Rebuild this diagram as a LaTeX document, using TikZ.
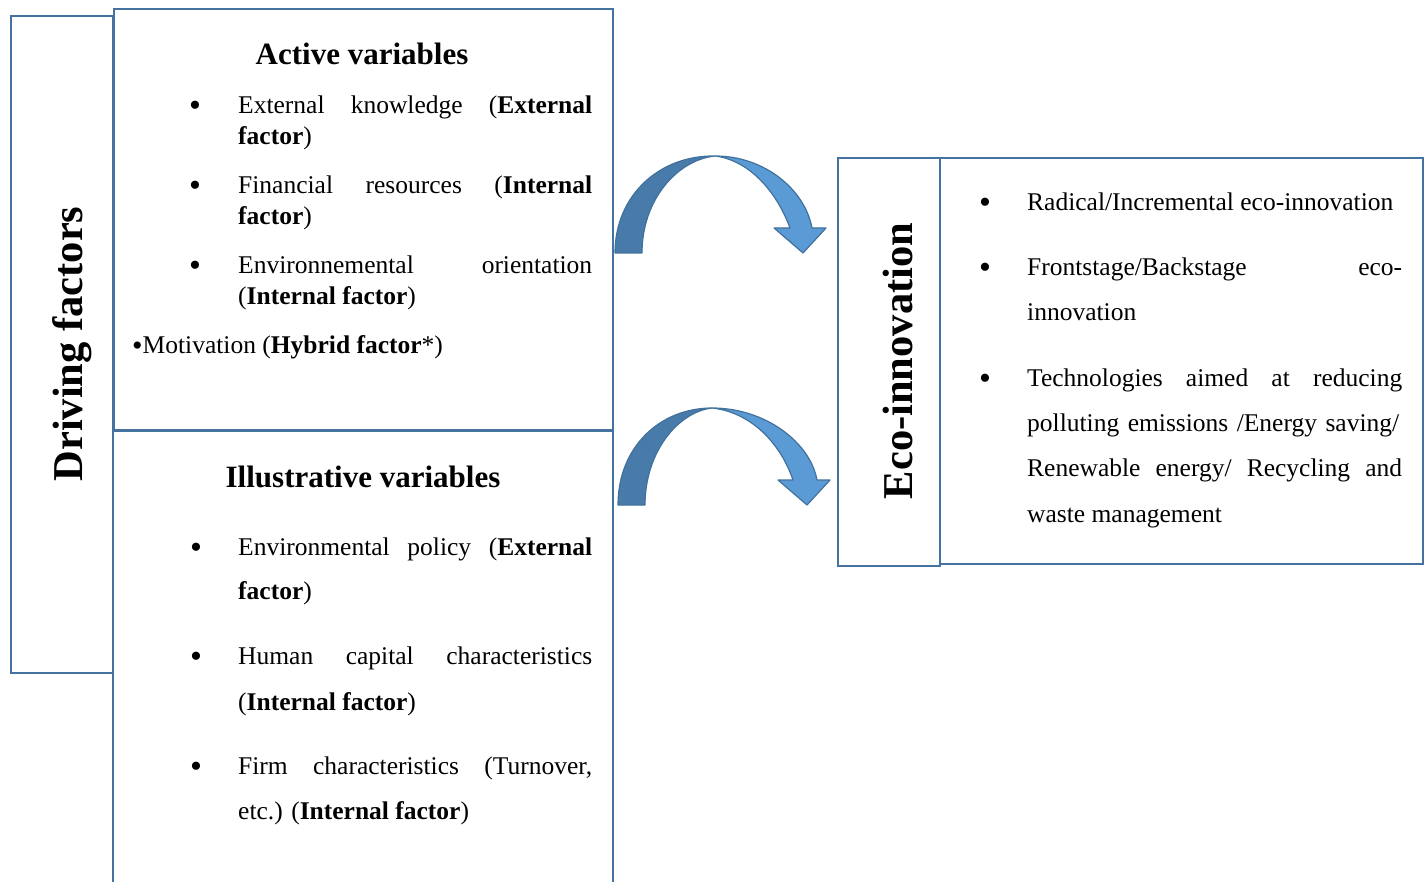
\documentclass[tikz,border=0pt]{standalone}
\usepackage{fontspec}
\setmainfont{Liberation Serif}
\definecolor{boxblue}{RGB}{70,114,160}
\definecolor{arrdark}{RGB}{72,122,170}
\definecolor{arrlight}{RGB}{91,155,213}
\definecolor{arrline}{RGB}{65,113,156}
\begin{document}
\begin{tikzpicture}[x=1pt,y=-1pt,
  box/.style={draw=boxblue,line width=2pt,rectangle,anchor=north west,inner sep=0pt},
  txt/.style={anchor=base west,inner sep=0pt,font=\fontsize{25.5}{30}\selectfont},
  bul/.style={anchor=base,inner sep=0pt,font=\fontsize{34}{36}\selectfont},
  ttl/.style={anchor=base,inner sep=0pt,font=\fontsize{31}{36}\selectfont\bfseries},
  side/.style={inner sep=0pt,rotate=90,font=\fontsize{42.5}{48}\selectfont\bfseries},
  dark/.style={fill=arrdark,draw=arrline,line width=1.2pt,line join=round},
  light/.style={fill=arrlight,draw=arrline,line width=1.2pt,line join=round}]
\useasboundingbox (0,0) rectangle (1424,882);
% boxes
\node[box,minimum width=102pt,minimum height=657pt] (drv) at (10,15) {};
\node[box,minimum width=499pt,minimum height=422pt] (act) at (113,8) {};
\draw[boxblue,line width=2pt] (113,883) -- (113,430) -- (613,430) -- (613,883);
\node[box,minimum width=102pt,minimum height=408pt] (ecol) at (837,157) {};
\node[box,minimum width=483pt,minimum height=406pt] (ecoc) at (939,157) {};
% side labels
\node[side] (drvt) at (72,344) {Driving factors};
\node[side] (ecot) at (898,361) {Eco-innovation};
% Active variables
\node[ttl] (actt) at (362,65) {Active variables};
\node[bul] (ab1) at (195,117) {\textbullet};
\node[txt] (a1) at (238,114) {\makebox[354pt][s]{External knowledge (\textbf{External}}};
\node[txt] (a2) at (238,145) {\textbf{factor})};
\node[bul] (ab2) at (195,197) {\textbullet};
\node[txt] (a3) at (238,194) {\makebox[354pt][s]{Financial resources (\textbf{Internal}}};
\node[txt] (a4) at (238,225) {\textbf{factor})};
\node[bul] (ab3) at (195,277) {\textbullet};
\node[txt] (a5) at (238,274) {\makebox[354pt][s]{Environnemental orientation}};
\node[txt] (a6) at (238,305) {(\textbf{Internal factor})};
\node[txt] (a7) at (132,354) {{\fontsize{30}{32}\selectfont\raisebox{-1.5pt}{\textbullet}}Motivation (\textbf{Hybrid factor}*)};
% Illustrative variables
\node[ttl] (illt) at (363,487) {Illustrative variables};
\node[bul] (ib1) at (196,558) {\textbullet};
\node[txt] (i1) at (238,555) {\makebox[354pt][s]{Environmental policy (\textbf{External}}};
\node[txt] (i2) at (238,599) {\textbf{factor})};
\node[bul] (ib2) at (196,667) {\textbullet};
\node[txt] (i3) at (238,664) {\makebox[354pt][s]{Human capital characteristics}};
\node[txt] (i4) at (238,710) {(\textbf{Internal factor})};
\node[bul] (ib3) at (196,777) {\textbullet};
\node[txt] (i5) at (238,774) {\makebox[354pt][s]{Firm characteristics (Turnover,}};
\node[txt] (i6) at (238,819) {etc.) (\textbf{Internal factor})};
% Eco-innovation list
\node[bul] (eb1) at (985,214) {\textbullet};
\node[txt] (e1) at (1027,211) {Radical/Incremental eco-innovation};
\node[bul] (eb2) at (985,279) {\textbullet};
\node[txt] (e2) at (1027,276) {\makebox[375pt][s]{Frontstage/Backstage eco-}};
\node[txt] (e3) at (1027,321) {innovation};
\node[bul] (eb3) at (985,389) {\textbullet};
\node[txt] (e4) at (1027,386) {\makebox[375pt][s]{Technologies aimed at reducing}};
\node[txt] (e5) at (1027,431) {\makebox[372pt][s]{polluting emissions /Energy saving/}};
\node[txt] (e6) at (1027,476) {\makebox[375pt][s]{Renewable energy/ Recycling and}};
\node[txt] (e7) at (1027,522) {waste management};
% curved arrow 1
\path[dark] (615,253) .. controls (615,195) and (660,155) .. (715,156)
  .. controls (677,160) and (642,200) .. (642,253) -- cycle;
\path[light] (715,156) .. controls (765,156) and (805,190) .. (812,228)
  -- (826,228) -- (803,253) -- (774,228) -- (790,228)
  .. controls (776,190) and (748,160) .. (715,156) -- cycle;
% curved arrow 2
\path[dark] (618,505) .. controls (618,447) and (660,408) .. (712,408)
  .. controls (678,412) and (645,452) .. (645,505) -- cycle;
\path[light] (712,408) .. controls (765,408) and (810,442) .. (817,480)
  -- (830,480) -- (807,505) -- (778,480) -- (793,480)
  .. controls (780,442) and (750,412) .. (712,408) -- cycle;
\end{tikzpicture}
\end{document}
